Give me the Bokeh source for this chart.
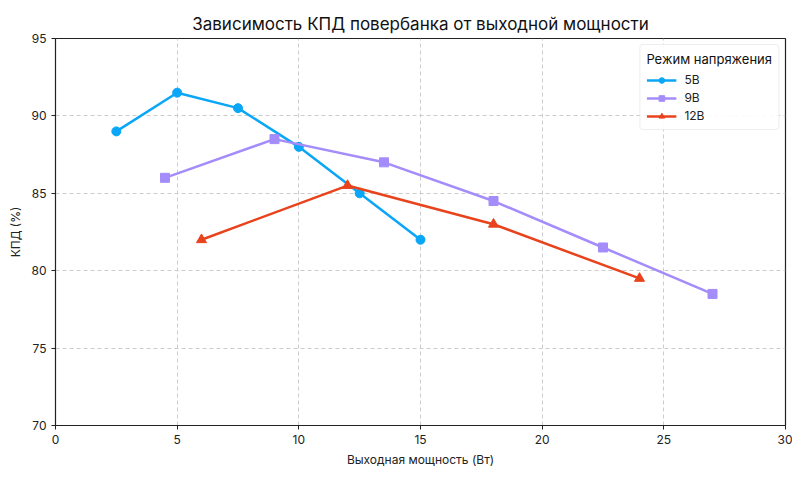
from bokeh.plotting import figure
from bokeh.embed import file_html
from bokeh.resources import INLINE
from bokeh.models import Legend, LegendItem, FixedTicker, Range1d

FONT = "Inter"

x_5v = [2.5, 5, 7.5, 10, 12.5, 15]
y_5v = [89, 91.5, 90.5, 88, 85, 82]
x_9v = [4.5, 9, 13.5, 18, 22.5, 27]
y_9v = [86, 88.5, 87, 84.5, 81.5, 78.5]
x_12v = [6, 12, 18, 24]
y_12v = [82, 85.5, 83, 79.5]
series_names = ["5В", "9В", "12В"]
x_ticks = [0, 5, 10, 15, 20, 25, 30]
y_ticks = [70, 75, 80, 85, 90, 95]

p = figure(width=792, height=469, output_backend="svg", toolbar_location=None,
           x_range=Range1d(0, 30), y_range=Range1d(70, 95),
           title="Зависимость КПД повербанка от выходной мощности")
p.min_border_left = 55
p.min_border_right = 7
p.min_border_top = 38
p.min_border_bottom = 43

p.title.align = "center"
p.title.text_font = FONT
p.title.text_font_size = "17px"
p.title.text_font_style = "normal"
p.title.text_color = "#111111"
p.title.standoff = 10

p.outline_line_color = "#222222"
p.outline_line_width = 1.2

for ax in (p.xaxis[0], p.yaxis[0]):
    ax.major_label_text_font = FONT
    ax.major_label_text_font_size = "12px"
    ax.major_label_text_color = "#222222"
    ax.axis_label_text_font = FONT
    ax.axis_label_text_font_size = "12px"
    ax.axis_label_text_font_style = "normal"
    ax.axis_label_text_color = "#222222"
    ax.minor_tick_line_color = None
    ax.major_tick_out = 4
    ax.major_tick_in = 0
    ax.axis_line_color = "#222222"
    ax.major_tick_line_color = "#222222"

p.xaxis.axis_label = "Выходная мощность (Вт)"
p.yaxis.axis_label = "КПД (%)"
p.xaxis.ticker = FixedTicker(ticks=x_ticks)
p.yaxis.ticker = FixedTicker(ticks=y_ticks)

p.grid.grid_line_color = "#cccccc"
p.grid.grid_line_dash = "4 3"
p.grid.grid_line_width = 1

c5, c9, c12 = "#0aa6f7", "#a48cfa", "#e8431c"

l1 = p.line(x_5v, y_5v, line_color=c5, line_width=2.5)
m1 = p.scatter(x_5v, y_5v, marker="circle", size=9, fill_color=c5, line_color=c5)
l2 = p.line(x_9v, y_9v, line_color=c9, line_width=2.5)
m2 = p.scatter(x_9v, y_9v, marker="square", size=9, fill_color=c9, line_color=c9)
l3 = p.line(x_12v, y_12v, line_color=c12, line_width=2.5)
m3 = p.scatter(x_12v, y_12v, marker="triangle", size=10, fill_color=c12, line_color=c12)

legend = Legend(items=[
    LegendItem(label=series_names[0], renderers=[l1, m1]),
    LegendItem(label=series_names[1], renderers=[l2, m2]),
    LegendItem(label=series_names[2], renderers=[l3, m3]),
], location="top_right")
legend.title = "Режим напряжения"
legend.title_text_font = FONT
legend.title_text_font_size = "13px"
legend.title_text_font_style = "normal"
legend.title_text_color = "#111111"
legend.label_text_font = FONT
legend.label_text_font_size = "12px"
legend.label_text_color = "#222222"
legend.border_line_color = "#dddddd"
legend.border_line_width = 1
legend.border_radius = 4
legend.background_fill_alpha = 0.9
legend.glyph_width = 30
legend.glyph_height = 14
legend.spacing = 3
legend.padding = 6
legend.margin = 6
legend.label_standoff = 8
p.add_layout(legend)

open("out.html", "w").write(file_html(p, INLINE))
